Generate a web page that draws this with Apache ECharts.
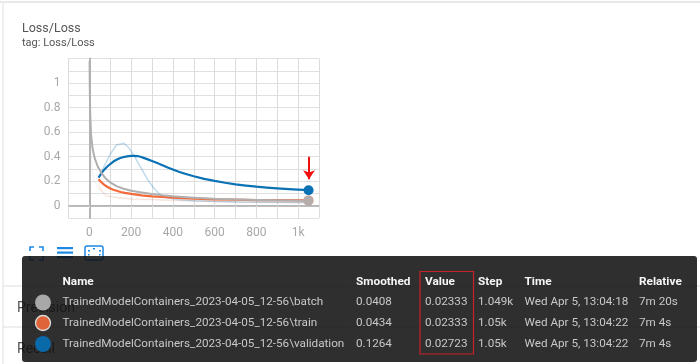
<!DOCTYPE html>
<html>
<head>
<meta charset="utf-8">
<style>
html,body{margin:0;padding:0;background:#fff;overflow:hidden}
#c{width:700px;height:364px;filter:blur(0.55px)}
</style>
<script src="https://cdn.jsdelivr.net/npm/echarts@6/dist/echarts.min.js"></script>
</head>
<body>
<div id="c"></div>
<script>
const batchRaw = [[1,0.92],[4,0.55],[10,0.33],[20,0.22],[40,0.15],[60,0.115],[80,0.095],[100,0.08],[150,0.065],[200,0.055],[300,0.05],[400,0.045],[600,0.035],[800,0.028],[1049,0.02333]];
const batchSmooth = [[1,1.18],[2,0.95],[4,0.75],[8,0.58],[15,0.47],[25,0.39],[40,0.32],[60,0.26],[80,0.22],[100,0.19],[130,0.16],[160,0.14],[200,0.122],[250,0.108],[300,0.095],[350,0.085],[400,0.077],[500,0.065],[600,0.056],[700,0.051],[800,0.047],[900,0.044],[1049,0.0408]];
const trainRaw = [[44,0.215],[52,0.14],[65,0.11],[80,0.075],[100,0.075],[130,0.065],[170,0.06],[220,0.05],[300,0.05],[400,0.042],[600,0.035],[800,0.028],[1050,0.02333]];
const trainSmooth = [[44,0.215],[55,0.195],[70,0.172],[85,0.155],[100,0.14],[115,0.13],[130,0.122],[150,0.112],[170,0.105],[200,0.096],[250,0.085],[300,0.077],[350,0.071],[400,0.066],[500,0.058],[600,0.052],[700,0.049],[800,0.046],[900,0.045],[1050,0.0434]];
const valRaw = [[44,0.23],[70,0.32],[100,0.42],[130,0.495],[165,0.51],[190,0.47],[220,0.39],[250,0.3],[280,0.21],[310,0.14],[340,0.09],[370,0.065],[420,0.05],[500,0.04],[700,0.03],[1050,0.02723]];
const valSmooth = [[44,0.23],[60,0.27],[70,0.292],[80,0.31],[90,0.326],[100,0.34],[115,0.36],[130,0.375],[145,0.387],[160,0.395],[180,0.402],[200,0.406],[215,0.407],[230,0.405],[245,0.399],[260,0.39],[280,0.378],[300,0.365],[325,0.348],[350,0.33],[375,0.312],[400,0.295],[425,0.279],[450,0.265],[475,0.252],[500,0.24],[550,0.219],[600,0.202],[650,0.187],[700,0.174],[750,0.164],[800,0.155],[850,0.148],[900,0.141],[975,0.133],[1050,0.1264]];
const arrowFrom = [1052,0.4];
const arrowTo = [1052,0.215];

const headers = ['Name','Smoothed','Value','Step','Time','Relative'];
const rowNames = ['TrainedModelContainers_2023-04-05_12-56\\batch','TrainedModelContainers_2023-04-05_12-56\\train','TrainedModelContainers_2023-04-05_12-56\\validation'];
const rowSmoothed = ['0.0408','0.0434','0.1264'];
const rowValue = ['0.02333','0.02333','0.02723'];
const rowStep = ['1.049k','1.05k','1.05k'];
const rowTime = ['Wed Apr 5, 13:04:18','Wed Apr 5, 13:04:22','Wed Apr 5, 13:04:22'];
const rowRelative = ['7m 20s','7m 4s','7m 4s'];

const GREY='#b0b0b0', ORANGE='#f4693a', BLUE='#0a72b5';
const colX=[62.5,356,425,478,524.5,639];
const rowY=[302.5,323,344];
const F='Roboto, sans-serif';

function line(name,data,color,width,opacity,z){
  return {name,type:'line',data,symbol:'none',smooth:false,z,silent:true,
    lineStyle:{color,width,opacity,join:'round'}};
}
function dot(name,p,color,z){
  return {name,type:'scatter',data:[p],symbolSize:10,z,silent:true,
    itemStyle:{color,opacity:1}};
}
const txt=(x,y,t,size,fill,weight,z,va)=>({type:'text',x,y,z:z||10,silent:true,
  style:{text:t,font:(weight||400)+' '+size+'px '+F,fill,textVerticalAlign:va||'middle'}});
const rect=(x,y,w,h,fill,z,extra)=>({type:'rect',z:z||1,silent:true,shape:Object.assign({x,y,width:w,height:h},extra||{}),style:{fill}});
const lineG=(x1,y1,x2,y2,stroke,w,z)=>({type:'line',z:z||1,silent:true,shape:{x1,y1,x2,y2},style:{stroke,lineWidth:w}});

const g=[];
g.push(lineG(0,2,700,2,'#e8e8e8',2,1), lineG(3,2,3,364,'#efefef',2,1));
g.push(lineG(3,286,700,286,'#dddddd',1,1), lineG(3,327,700,327,'#dddddd',1,1));
g.push(txt(17,308,'Precision',14,'#555',400,1), txt(17,349,'Recall',14,'#555',400,1));
g.push(txt(22,28.5,'Loss/Loss',12.5,'#555'), txt(22,43,'tag: Loss/Loss',11,'#555'));
const ic='#1e88e5';
[[30,247,1,1],[43,247,-1,1],[30,260,1,-1],[43,260,-1,-1]].forEach(([x,y,a,b])=>{
  g.push({type:'polyline',z:5,silent:true,shape:{points:[[x,y+b*4],[x,y],[x+a*4,y]]},style:{stroke:ic,lineWidth:1.6,fill:null}});
});
[247,251.5,256].forEach(y=>g.push(rect(57,y,16,2.2,ic,5)));
g.push({type:'rect',z:5,silent:true,shape:{x:85,y:246,width:18,height:14,r:2},style:{stroke:ic,lineWidth:1.5,fill:null}});
g.push(rect(88,250,2,1.5,ic,5),rect(93,248,2,1.5,ic,5),rect(99,250,2,1.5,ic,5),rect(88,254,1.5,1.5,ic,5),rect(99,254,1.5,1.5,ic,5));
g.push({type:'rect',z:6,silent:true,shape:{x:22,y:256,width:675,height:106,r:3},style:{fill:'rgba(16,16,16,0.87)'}});
headers.forEach((h,i)=>g.push(txt(colX[i],282,h,11.8,'#f5f5f5',700)));
[rowNames,rowSmoothed,rowValue,rowStep,rowTime,rowRelative].forEach((col,i)=>{
  col.forEach((t,r)=>g.push(txt(colX[i],rowY[r],t,11.7,'#c8c8c8',400)));
});
g.push({type:'circle',z:8,silent:true,shape:{cx:43,cy:rowY[0],r:8},style:{fill:'#a8a8a8'}});
g.push({type:'circle',z:8,silent:true,shape:{cx:43,cy:rowY[1],r:7.5},style:{fill:'#e0643a',stroke:'#dcdcdc',lineWidth:1.3}});
g.push({type:'circle',z:8,silent:true,shape:{cx:43,cy:rowY[2],r:8},style:{fill:'#0a69a8'}});
g.push({type:'rect',z:9,silent:true,shape:{x:420,y:271.5,width:53.5,height:82.5},style:{stroke:'#c8222a',lineWidth:1.2,fill:null}});

const chart=echarts.init(document.getElementById('c'),null,{renderer:'canvas'});
chart.setOption({
  animation:false,backgroundColor:'#fff',
  grid:{left:68.5,right:381,top:58.5,bottom:146,containLabel:false},
  xAxis:{type:'value',min:-100,max:1100,interval:100,
    axisLine:{onZero:true,lineStyle:{color:'#a8a8a8',width:1.5}},
    axisTick:{show:true,length:2,lineStyle:{color:'#dddddd'}},
    axisLabel:{color:'#a8a8a8',fontSize:12,fontFamily:F,margin:9,showMinLabel:true,showMaxLabel:true,
      formatter:v=>{if(v<0||v%200!==0||v>1000)return '';return v===1000?'1k':String(v);}},
    splitLine:{show:true,lineStyle:{color:'#dcdcdc',width:1}}},
  yAxis:{type:'value',min:-0.1,max:1.2,interval:0.1,
    axisLine:{onZero:true,lineStyle:{color:'#b4b4b4',width:2}},
    axisTick:{show:false},
    axisLabel:{color:'#a8a8a8',fontSize:12,fontFamily:F,margin:8,showMinLabel:false,
      formatter:v=>{const k=Math.round(v*10);if(k<0||k%2!==0||k>10)return '';return String(k/10);}},
    splitLine:{show:true,lineStyle:{color:'#e0e0e0',width:1}}},
  series:[
    line('batch raw',batchRaw,GREY,1.5,0.12,2),
    line('train raw',trainRaw,ORANGE,1.5,0.12,2),
    line('validation raw',valRaw,BLUE,1.5,0.26,2),
    line('validation',valSmooth,BLUE,2.2,1,3),
    line('train',trainSmooth,ORANGE,2.2,1,3),
    line('batch',batchSmooth,GREY,2,1,4),
    dot('validation end',valSmooth[valSmooth.length-1],BLUE,5),
    dot('train end',trainSmooth[trainSmooth.length-1],'#e0907a',5),
    dot('batch end',batchSmooth[batchSmooth.length-1],'#b5aeac',6),
    {name:'arrow',type:'line',data:[],silent:true,
      markLine:{silent:true,animation:false,symbol:['none','arrow'],symbolSize:[9,9],label:{show:false},
        lineStyle:{color:'#f01010',width:2,type:'solid'},
        data:[[{coord:arrowFrom},{coord:arrowTo}]]}}
  ],
  graphic:g
});
</script>
</body>
</html>
